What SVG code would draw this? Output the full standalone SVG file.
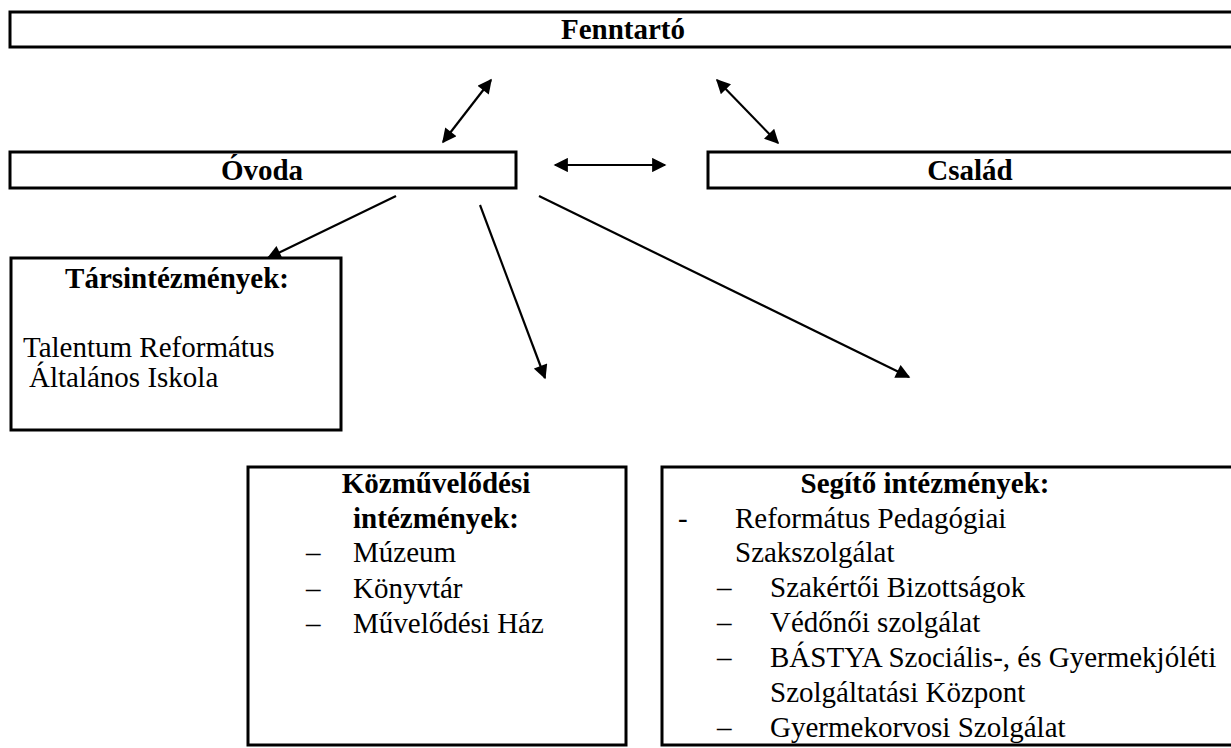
<svg xmlns="http://www.w3.org/2000/svg" width="1231" height="748" viewBox="0 0 1231 748">
<style>
.box{fill:#fff;stroke:#000;stroke-width:3}
.t{font-family:"Liberation Serif","Times New Roman",serif;font-size:29px;fill:#000}
.b{font-weight:bold}
.c{text-anchor:middle}
.ln{stroke:#000;stroke-width:2.2;fill:none}
</style>
<defs>
<marker id="ah" viewBox="0 0 10 10" refX="9" refY="5" markerWidth="7" markerHeight="6.5" orient="auto-start-reverse" markerUnits="strokeWidth">
<path d="M0,0 L10,5 L0,10 z" fill="#000"/>
</marker>
</defs>
<g id="fenntarto">
<rect class="box" x="10" y="12" width="1240" height="35"/>
<text class="t b c" x="623" y="39">Fenntartó</text>
</g>
<g id="ovoda">
<rect class="box" x="10" y="152" width="506" height="36"/>
<text class="t b c" x="262" y="180">Óvoda</text>
</g>
<g id="csalad">
<rect class="box" x="708" y="152" width="540" height="36"/>
<text class="t b c" x="970" y="180">Család</text>
</g>
<g id="tarsintezmenyek">
<rect class="box" x="11" y="258" width="330" height="172"/>
<text class="t b c" x="177" y="288">Társintézmények:</text>
<text class="t" x="23" y="357">Talentum Református</text>
<text class="t" x="29" y="387">Általános Iskola</text>
</g>
<g id="kozmuvelodesi">
<rect class="box" x="248" y="467" width="378" height="278"/>
<text class="t b c" x="436" y="493">Közművelődési</text>
<text class="t b c" x="436" y="528">intézmények:</text>
<text class="t" x="306" y="562">–</text><text class="t" x="353" y="562">Múzeum</text>
<text class="t" x="306" y="598">–</text><text class="t" x="353" y="598">Könyvtár</text>
<text class="t" x="306" y="633">–</text><text class="t" x="353" y="633">Művelődési Ház</text>
</g>
<g id="segito">
<rect class="box" x="662" y="467" width="580" height="278"/>
<text class="t b c" x="925" y="493">Segítő intézmények:</text>
<text class="t" x="678" y="528">-</text><text class="t" x="735" y="528">Református Pedagógiai</text>
<text class="t" x="735" y="562">Szakszolgálat</text>
<text class="t" x="717" y="597">–</text><text class="t" x="770" y="597">Szakértői Bizottságok</text>
<text class="t" x="717" y="632">–</text><text class="t" x="770" y="632">Védőnői szolgálat</text>
<text class="t" x="717" y="667">–</text><text class="t" x="770" y="667">BÁSTYA Szociális-, és Gyermekjóléti</text>
<text class="t" x="770" y="702">Szolgáltatási Központ</text>
<text class="t" x="717" y="737">–</text><text class="t" x="770" y="737">Gyermekorvosi Szolgálat</text>
</g>
<g id="connectors">
<line class="ln" x1="443" y1="142" x2="491" y2="80" marker-start="url(#ah)" marker-end="url(#ah)"/>
<line class="ln" x1="717" y1="80" x2="778" y2="143" marker-start="url(#ah)" marker-end="url(#ah)"/>
<line class="ln" x1="555" y1="165" x2="665" y2="165" marker-start="url(#ah)" marker-end="url(#ah)"/>
<line class="ln" x1="396" y1="196" x2="268" y2="258" marker-end="url(#ah)"/>
<line class="ln" x1="480" y1="205" x2="545" y2="378" marker-end="url(#ah)"/>
<line class="ln" x1="539" y1="196" x2="909" y2="377" marker-end="url(#ah)"/>
</g>
</svg>
